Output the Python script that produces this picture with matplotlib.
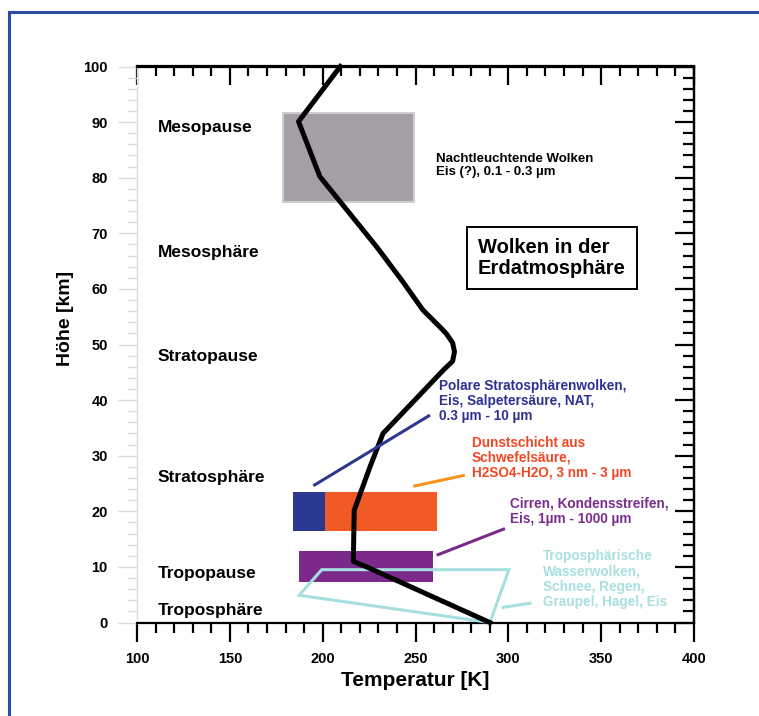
import matplotlib.pyplot as plt
import numpy as np
from matplotlib.patches import Rectangle, Polygon
from matplotlib.lines import Line2D
from matplotlib.ticker import MultipleLocator

plt.rcParams['font.family'] = ['Liberation Sans', 'DejaVu Sans']
plt.rcParams['font.weight'] = 'bold'

# mean temperature profile of the atmosphere
temp_K = [290, 225, 216.5, 217, 225.5, 232.5, 265, 270, 271, 270, 266.5, 263, 254, 242.5, 229, 198.5, 187, 209.5]
height_km = [0, 9.8, 11, 20.2, 28, 34, 45.4, 47, 48.7, 50.3, 52, 53.2, 56.2, 61.6, 67.6, 80.2, 90.1, 100]

# atmospheric layers
layer_names = ["Mesopause", "Mesosphäre", "Stratopause", "Stratosphäre", "Tropopause", "Troposphäre"]
layer_heights = [89.1, 66.5, 47.9, 26.0, 8.9, 2.2]

# cloud types: temperature range and height range
cloud_tmin = [178.5, 184.2, 201.3, 187.4]
cloud_tmax = [249.3, 201.3, 261.4, 259.2]
cloud_hmin = [75.7, 16.5, 16.5, 7.2]
cloud_hmax = [91.6, 23.5, 23.5, 12.9]
cloud_colors = ['#a49fa7', '#2b3990', '#f15a24', '#7b2a8c']
cloud_edges = ['#cfcdd2', 'none', 'none', 'none']

# tropospheric water clouds outline
tropo_T = [187.4, 199.5, 300.3, 290.1]
tropo_h = [4.9, 9.5, 9.5, 0.0]

# labels with leader lines
notes = [
    "Nachtleuchtende Wolken\nEis (?), 0.1 - 0.3 µm",
    "Polare Stratosphärenwolken,\nEis, Salpetersäure, NAT,\n0.3 µm - 10 µm",
    "Dunstschicht aus\nSchwefelsäure,\nH2SO4-H2O, 3 nm - 3 µm",
    "Cirren, Kondensstreifen,\nEis, 1µm - 1000 µm",
    "Troposphärische\nWasserwolken,\nSchnee, Regen,\nGraupel, Hagel, Eis",
]
note_T = [261.0, 262.6, 280.4, 300.9, 318.6]
note_h = [82.2, 39.8, 29.6, 20.0, 7.8]
note_colors = ['black', '#2e3192', '#ef4823', '#7a2e8e', '#a9dfe0']
leader_T = [None, (195.0, 257.8), (248.8, 276.6), (261.4, 298.2), (296.4, 312.5)]
leader_h = [None, (24.6, 37.3), (24.5, 26.5), (12.1, 16.9), (2.7, 3.5)]
leader_colors = [None, '#2b3990', '#f7931e', '#7b2a8c', '#a6dfe0']

W, H = 759, 716
fig = plt.figure(figsize=(W / 100, H / 100), dpi=100)
ax = fig.add_axes([137 / W, 1 - 622.5 / H, 557 / W, 556 / H])
ax.set_xlim(100, 400)
ax.set_ylim(0, 100)

# frame lines around the figure
fig.add_artist(Line2D([9 / W, 1.0], [1 - 12 / H, 1 - 12 / H], color='#2b4ca3', lw=2.2, transform=fig.transFigure))
fig.add_artist(Line2D([9 / W, 9 / W], [0.0, 1 - 12 / H], color='#2b4ca3', lw=2.2, transform=fig.transFigure))

for tmin, tmax, hmin, hmax, fc, ec in zip(cloud_tmin, cloud_tmax, cloud_hmin, cloud_hmax, cloud_colors, cloud_edges):
    ax.add_patch(Rectangle((tmin, hmin), tmax - tmin, hmax - hmin, facecolor=fc,
                           edgecolor=ec, lw=1.5, zorder=2))

ax.add_patch(Polygon(np.column_stack([tropo_T, tropo_h]), closed=True, fill=False,
                     edgecolor='#a6dfe0', lw=2.2, zorder=3, clip_on=False))

ax.plot(temp_K, height_km, color='black', lw=3.6, zorder=4, solid_joinstyle='round', clip_on=False)

for lt, lh, lc in zip(leader_T, leader_h, leader_colors):
    if lt is not None:
        ax.plot(lt, lh, color=lc, lw=2.2, zorder=5, solid_capstyle='butt')

for name, h in zip(layer_names, layer_heights):
    ax.text(111.3, h, name, fontsize=12.5, fontweight='bold', va='center', ha='left')

for txt, t, h, c in zip(notes, note_T, note_h, note_colors):
    fs = 9.5 if c == 'black' else 9.8
    ax.text(t, h, txt, fontsize=fs, fontweight='bold', color=c, va='center', ha='left',
            linespacing=1.1)

ax.text(283.5, 65.6, "Wolken in der\nErdatmosphäre", fontsize=14.5, fontweight='bold',
        va='center', ha='left', linespacing=1.15,
        bbox=dict(boxstyle='square,pad=0.55', facecolor='white', edgecolor='black', lw=1.4))

# spines and ticks
for s in ['top', 'right', 'bottom']:
    ax.spines[s].set_linewidth(1.6)
ax.spines['left'].set_color('#dcdcdc')
ax.spines['left'].set_linewidth(1.0)

ax.xaxis.set_major_locator(MultipleLocator(50))
ax.xaxis.set_minor_locator(MultipleLocator(10))
ax.yaxis.set_major_locator(MultipleLocator(10))
ax.yaxis.set_minor_locator(MultipleLocator(2))
ax.tick_params(axis='x', which='major', direction='out', length=14, width=1.6, pad=7, labelsize=10.5)
ax.tick_params(axis='x', which='minor', direction='out', length=7, width=1.6)
ax.tick_params(axis='y', which='major', direction='out', length=14, width=1.0, color='#dcdcdc', pad=7, labelsize=10.5)
ax.tick_params(axis='y', which='minor', direction='out', length=7, width=1.0, color='#dcdcdc')
for lab in ax.get_xticklabels() + ax.get_yticklabels():
    lab.set_fontweight('bold')

top = ax.secondary_xaxis('top')
top.xaxis.set_major_locator(MultipleLocator(50))
top.xaxis.set_minor_locator(MultipleLocator(10))
top.tick_params(which='major', direction='in', length=14, width=1.6, labeltop=False)
top.tick_params(which='minor', direction='in', length=7, width=1.6)
top.spines['top'].set_linewidth(1.6)

right = ax.secondary_yaxis('right')
right.yaxis.set_major_locator(MultipleLocator(10))
right.yaxis.set_minor_locator(MultipleLocator(2))
right.tick_params(which='major', direction='in', length=14, width=1.6, labelright=False)
right.tick_params(which='minor', direction='in', length=8, width=1.6)
right.spines['right'].set_linewidth(1.6)

ax.set_xlabel("Temperatur [K]", fontsize=15, fontweight='bold', labelpad=4)
fig.text(66 / W, 1 - 318 / H, "Höhe [km]", fontsize=14, fontweight='bold', rotation=90,
         ha='center', va='center')

fig.savefig("out.png", dpi=100)
